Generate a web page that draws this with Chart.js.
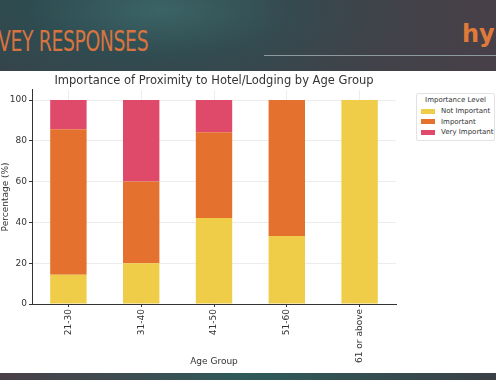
<!DOCTYPE html>
<html>
<head>
<meta charset="utf-8">
<script src="https://cdn.jsdelivr.net/npm/chart.js@4.4.1/dist/chart.umd.min.js"></script>
<style>
  html, body { margin: 0; padding: 0; width: 496px; height: 380px; overflow: hidden; }
  body {
    position: relative;
    background: radial-gradient(ellipse 260px 90px at 160px 10px, #3d6e6e 0%, #2f4d52 50%, #3b4248 100%),
                linear-gradient(90deg, #34484c, #4a4049);
    font-family: "DejaVu Sans", sans-serif;
  }
  #header {
    position: absolute; left: 0; top: 0; width: 496px; height: 71px;
    background: linear-gradient(90deg, rgba(40,70,75,0.2) 0%, rgba(58,72,78,0.3) 50%, rgba(80,62,72,0.6) 100%);
  }
  #heading {
    position: absolute; left: -2px; top: 24px; margin: 0;
    font-family: "Liberation Sans Narrow", "DejaVu Sans Condensed", sans-serif;
    font-size: 29px; font-weight: normal; color: #d9733f; letter-spacing: -0.5px;
    transform: scaleX(0.72); transform-origin: left;
  }
  #logo {
    position: absolute; left: 462px; top: 20px;
    font-family: "DejaVu Sans", sans-serif; font-weight: bold; font-size: 24px; color: #e07a3a;
  }
  #rule { position: absolute; left: 264px; top: 55px; width: 232px; height: 1px; background: #8d9a9e; }
  #panel { position: absolute; left: 0; top: 71px; width: 496px; height: 302px; background: #fff; }
  #bottom {
    position: absolute; left: 0; top: 373px; width: 496px; height: 7px;
    background: linear-gradient(90deg, #4a3f48, #2f5a5a 50%, #3a4046);
  }
  #legend {
    position: absolute; left: 416px; top: 93px; width: 77px;
    border: 1px solid #e2e2e2; border-radius: 2px; background: #fff;
    font-size: 7px; color: #333; padding: 1px 0 2px 0;
  }
  #legend .ttl { text-align: center; height: 11px; line-height: 11px; }
  #legend .row { display: flex; align-items: center; height: 10.5px; padding-left: 4px; }
  #legend .sw { width: 14px; height: 5px; margin-right: 6px; }
</style>
</head>
<body>
<div id="header"></div>
<h1 id="heading">VEY RESPONSES</h1>
<div id="logo">hy</div>
<div id="rule"></div>
<div id="panel"><canvas id="myChart" width="496" height="302"></canvas></div>
<div id="legend"></div>
<div id="bottom"></div>
<script>
const categories = ['21-30', '31-40', '41-50', '51-60', '61 or above'];
const notImportant = [14.3, 20, 42.1, 33.3, 100];
const important = [71.4, 40, 42.1, 66.7, 0];
const veryImportant = [14.3, 40, 15.8, 0, 0];
const seriesNames = ['Not Important', 'Important', 'Very Important'];
const seriesColors = ['#efcd48', '#e4712e', '#df4a6b'];
const yTicks = [0, 20, 40, 60, 80, 100];

Chart.defaults.font.family = '"DejaVu Sans", sans-serif';
Chart.defaults.color = '#333';

const ctx = document.getElementById('myChart');
const values = [notImportant, important, veryImportant];

new Chart(ctx, {
  type: 'bar',
  data: {
    labels: categories,
    datasets: values.map((v, i) => ({
      label: seriesNames[i],
      data: v,
      backgroundColor: seriesColors[i],
      borderWidth: 0,
      barPercentage: 0.5,
      categoryPercentage: 1.0,
    })),
  },
  options: {
    responsive: false,
    animation: false,
    layout: { padding: { right: 100, left: 0, top: 0, bottom: 2 } },
    scales: {
      x: {
        stacked: true,
        grid: { color: '#ececec', tickLength: 3, tickColor: '#333', offset: false },
        border: { color: '#333', width: 1 },
        ticks: { font: { size: 9 }, maxRotation: 90, minRotation: 90, padding: 2 },
        title: { display: true, text: 'Age Group', font: { size: 9 }, padding: { top: 0 } },
        afterFit: (s) => { s.height = 67; },
      },
      y: {
        stacked: true,
        min: 0,
        max: 105,
        grid: { color: '#ececec', tickLength: 3, tickColor: '#333' },
        border: { color: '#333', width: 1 },
        afterBuildTicks: (s) => { s.ticks = yTicks.map(v => ({ value: v })); },
        ticks: { font: { size: 9 }, padding: 2 },
        title: { display: true, text: 'Percentage (%)', font: { size: 9 }, padding: 0 },
        afterFit: (s) => { s.width = 32; },
      },
    },
    plugins: {
      title: {
        display: true,
        fullSize: false,
        text: 'Importance of Proximity to Hotel/Lodging by Age Group',
        font: { size: 11.5, weight: 'normal' },
        color: '#333',
        padding: { top: 3, bottom: 2 },
      },
      legend: { display: false },
      tooltip: { enabled: false },
    },
  },
});

const legend = document.getElementById('legend');
legend.innerHTML = '<div class="ttl">Importance Level</div>' +
  seriesNames.map((n, i) =>
    '<div class="row"><div class="sw" style="background:' + seriesColors[i] + '"></div>' + n + '</div>'
  ).join('');
</script>
</body>
</html>
